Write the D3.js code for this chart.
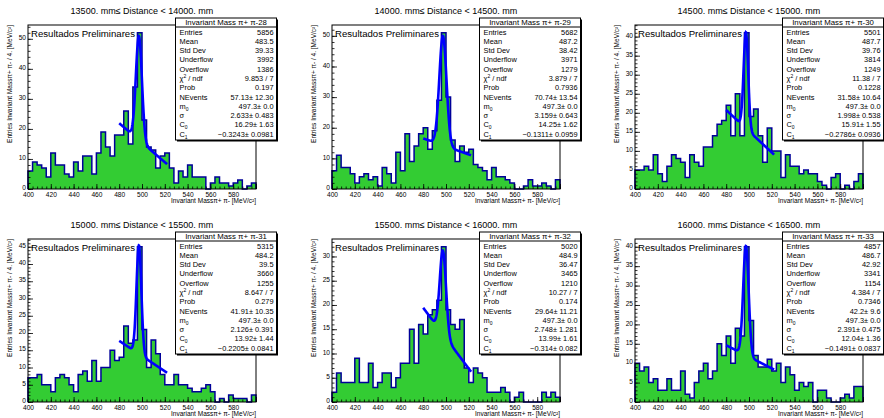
<!DOCTYPE html>
<html>
<head>
<meta charset="utf-8">
<script src="https://cdn.jsdelivr.net/npm/d3@7"></script>
<style>
body { margin: 0; background: #fff; }
svg text { font-family: "Liberation Sans", Arial, Helvetica, sans-serif; fill: #000; }
</style>
</head>
<body>
<script>
// histogram binning (MeV/c^2)
var x_min = 400, x_max = 600, bin_width = 4;

// one histogram per distance slice
var hist_ids = [28, 29, 30, 31, 32, 33];
var distance_low = [13500, 14000, 14500, 15000, 15500, 16000];
var distance_high = [14000, 14500, 15000, 15500, 16000, 16500];

// bin contents, 400 -> 596 in steps of 4
var counts28 = [6,9,8,7,4,12,8,8,5,4,9,6,11,11,5,12,19,14,11,18,18,26,15,34,52,23,14,13,7,11,12,7,2,6,4,8,4,4,4,0,2,4,2,2,1,2,3,0,1,2];
var counts29 = [6,11,7,7,5,2,4,5,3,4,1,7,5,2,12,6,18,9,14,18,20,13,19,29,51,30,16,9,14,12,13,8,7,6,3,7,4,4,3,2,0,0,1,3,1,1,2,1,0,3];
var counts30 = [5,5,6,5,9,4,2,6,9,8,7,3,9,7,6,11,11,14,17,18,22,14,25,14,41,19,21,14,7,16,10,10,3,9,6,6,4,5,4,4,2,1,0,3,4,0,1,0,2,4];
var counts31 = [7,7,8,5,5,3,7,8,7,5,3,8,9,6,12,6,10,10,15,12,13,22,17,18,45,21,10,18,14,8,5,5,8,5,5,4,3,3,4,5,3,0,1,0,2,1,1,1,0,2];
var counts32 = [2,6,4,4,4,9,4,4,8,3,4,6,6,3,5,8,8,15,8,16,14,18,19,21,32,19,16,15,17,7,4,7,6,5,2,2,2,3,2,0,1,2,0,0,0,0,2,1,2,1];
var counts33 = [10,8,9,5,6,3,3,6,3,3,8,2,1,5,8,10,6,8,15,12,17,10,19,17,40,21,12,9,9,11,8,10,5,9,7,3,5,4,5,0,3,3,1,0,0,1,2,1,4,4];
var all_counts = [counts28, counts29, counts30, counts31, counts32, counts33];

// stats box
var entries = [5856, 5682, 5501, 5315, 5020, 4857];
var means = ["483.5", "487.2", "487.7", "484.2", "484.9", "486.7"];
var std_devs = ["39.33", "38.42", "39.76", "39.5", "36.47", "42.92"];
var underflows = [3992, 3971, 3814, 3660, 3465, 3341];
var overflows = [1386, 1279, 1249, 1255, 1210, 1154];
var chi2 = ["9.853", "3.879", "11.38", "8.647", "10.27", "4.384"];
var ndf = 7;
var probs = ["0.197", "0.7936", "0.1228", "0.279", "0.174", "0.7346"];

// fit: gaussian peak + linear background
var n_events = [57.13, 70.74, 31.58, 41.91, 29.64, 42.2];
var n_events_err = ["12.30", "13.54", "10.64", "10.35", "11.21", "9.6"];
var mass_peak = 497.3, mass_peak_err = "0.0";
var sigmas = [2.633, 3.159, 1.998, 2.126, 2.748, 2.391];
var sigmas_err = ["0.483", "0.643", "0.538", "0.391", "1.281", "0.475"];
var c0s = [16.29, 14.25, 15.91, 13.92, 13.99, 12.04];
var c0s_err = ["1.63", "1.62", "1.55", "1.44", "1.61", "1.36"];
var c1s = [-0.3243, -0.1311, -0.2786, -0.2205, -0.314, -0.1491];
var c1s_err = ["0.0981", "0.0959", "0.0936", "0.0841", "0.082", "0.0837"];
var fit_range = [480, 522];

var width = 884, height = 418;

// frame layout (3 columns x 2 rows)
var frame_left = [28, 332, 635],
    frame_top = [25, 239],
    frame_width = 228,
    frame_height = [164, 163];

var svg = d3.select("body").append("svg")
    .attr("width", width)
    .attr("height", height);

hist_ids.forEach(function(id, i){ drawPanel(i); });

function fitValue(i, m){
  var s = sigmas[i];
  var amp = n_events[i] * bin_width / (Math.sqrt(2 * Math.PI) * s);
  return amp * Math.exp(-0.5 * Math.pow((m - mass_peak) / s, 2)) + c0s[i] + c1s[i] * (m - mass_peak);
}

function minus(v){ return String(v).replace("-", "\u2212"); }

function drawPanel(i){
  var col = i % 3, row = Math.floor(i / 3);
  var left = frame_left[col], top = frame_top[row],
      w = frame_width, h = frame_height[row];
  var counts = all_counts[i];
  var ymax = 1.05 * d3.max(counts);

  var x = d3.scaleLinear().domain([x_min, x_max]).range([left, left + w]);
  var y = d3.scaleLinear().domain([0, ymax]).range([top + h, top]);

  var g = svg.append("g").attr("class", "pad");

  var bins = counts.map(function(c, j){ return {x: x_min + j * bin_width, y: c}; });
  bins.push({x: x_max, y: counts[counts.length - 1]});

  // filled histogram
  g.append("path")
      .datum(bins)
      .attr("d", d3.area()
        .curve(d3.curveStepAfter)
        .x(function(d){ return x(d.x); })
        .y0(y(0))
        .y1(function(d){ return y(d.y); }))
      .attr("fill", "#33cc33");

  var outline = [{x: x_min, y: 0}].concat(bins, [{x: x_max, y: 0}]);
  g.append("path")
      .datum(outline)
      .attr("d", d3.line()
        .curve(d3.curveStepAfter)
        .x(function(d){ return x(d.x); })
        .y(function(d){ return y(d.y); }))
      .attr("fill", "none")
      .attr("stroke", "#000099")
      .attr("stroke-width", 1.5);

  // fit curve
  var fit_pts = d3.range(fit_range[0], fit_range[1] + 0.01, 0.2);
  g.append("path")
      .datum(fit_pts)
      .attr("d", d3.line()
        .x(function(d){ return x(d); })
        .y(function(d){ return y(fitValue(i, d)); }))
      .attr("fill", "none")
      .attr("stroke", "#0000ff")
      .attr("stroke-width", 2.6);

  // frame
  g.append("rect")
      .attr("x", left).attr("y", top)
      .attr("width", w).attr("height", h)
      .attr("fill", "none")
      .attr("stroke", "#000")
      .attr("stroke-width", 1);

  // axes, ticks inside the frame
  var y_step = ymax > 50 ? 10 : 5;
  var axes = [
    d3.axisBottom(x).tickValues(d3.range(x_min, x_max + 1, bin_width)).tickSize(-2.5).tickFormat(""),
    d3.axisBottom(x).tickValues(d3.range(x_min, x_max + 1, 20)).tickSize(-5).tickPadding(3)
      .tickFormat(function(d){ return d < x_max ? d : ""; })
  ];
  axes.forEach(function(a){
    g.append("g")
        .attr("transform", "translate(0," + (top + h) + ")")
        .call(a)
        .call(styleAxis);
  });
  var yaxes = [
    d3.axisLeft(y).tickValues(d3.range(0, ymax, y_step / 5)).tickSize(-2.5).tickFormat(""),
    d3.axisLeft(y).tickValues(d3.range(0, ymax, y_step)).tickSize(-5).tickPadding(2)
  ];
  yaxes.forEach(function(a){
    g.append("g")
        .attr("transform", "translate(" + left + ",0)")
        .call(a)
        .call(styleAxis)
      .selectAll("text")
        .attr("dy", "0.1em");
  });

  // titles
  g.append("text")
      .attr("x", left + w / 2)
      .attr("y", top - 11)
      .attr("text-anchor", "middle")
      .attr("font-size", 9)
      .text(distance_low[i] + ". mm\u2264 Distance < " + distance_high[i] + ". mm");

  g.append("text")
      .attr("x", left + w)
      .attr("y", top + h + 14)
      .attr("text-anchor", "end")
      .attr("font-size", 6.5)
      .text("Invariant Mass\u03c0+ \u03c0- [MeV/c\u00b2]");

  g.append("text")
      .attr("transform", "translate(" + (left - 16) + "," + top + ") rotate(-90)")
      .attr("text-anchor", "end")
      .attr("font-size", 6.5)
      .text("Entries Invariant Mass\u03c0+ \u03c0- / 4. [MeV/c\u00b2]");

  g.append("text")
      .attr("x", left + 3)
      .attr("y", top + 12)
      .attr("font-size", 9.6)
      .text("Resultados Preliminares");

  drawStats(g, i, left + w - 80.5, top - 7);
}

function styleAxis(sel){
  sel.select(".domain").remove();
  sel.attr("font-family", null).attr("font-size", 6.6);
  sel.selectAll("line").attr("stroke", "#000").attr("stroke-width", 0.8);
}

function drawStats(g, i, bx, by){
  var bw = 101, bh = 122, head = 9;

  g.append("rect")
      .attr("x", bx + 1.5).attr("y", by + 1.5)
      .attr("width", bw).attr("height", bh)
      .attr("fill", "#000");
  g.append("rect")
      .attr("x", bx).attr("y", by)
      .attr("width", bw).attr("height", bh)
      .attr("fill", "#fff")
      .attr("stroke", "#000")
      .attr("stroke-width", 1);
  g.append("line")
      .attr("x1", bx).attr("x2", bx + bw)
      .attr("y1", by + head).attr("y2", by + head)
      .attr("stroke", "#000")
      .attr("stroke-width", 1);

  g.append("text")
      .attr("x", bx + bw / 2)
      .attr("y", by + 7.3)
      .attr("text-anchor", "middle")
      .attr("font-size", 7.8)
      .text("Invariant Mass \u03c0+ \u03c0-" + hist_ids[i]);

  var rows = [
    [[{t: "Entries"}], String(entries[i])],
    [[{t: "Mean"}], means[i]],
    [[{t: "Std Dev"}], std_devs[i]],
    [[{t: "Underflow"}], String(underflows[i])],
    [[{t: "Overflow"}], String(overflows[i])],
    [[{t: "\u03c7"}, {t: "2", s: "sup"}, {t: " / ndf"}], chi2[i] + " / " + ndf],
    [[{t: "Prob"}], probs[i]],
    [[{t: "NEvents"}], n_events[i] + "\u00b1 " + n_events_err[i]],
    [[{t: "m"}, {t: "0", s: "sub"}], mass_peak + "\u00b1 " + mass_peak_err],
    [[{t: "\u03c3"}], sigmas[i] + "\u00b1 " + sigmas_err[i]],
    [[{t: "C"}, {t: "0", s: "sub"}], c0s[i] + "\u00b1 " + c0s_err[i]],
    [[{t: "C"}, {t: "1", s: "sub"}], minus(c1s[i]) + "\u00b1 " + c1s_err[i]]
  ];

  var row_y = d3.scaleLinear().domain([0, rows.length - 1]).range([by + 16.5, by + bh - 3.3]);

  rows.forEach(function(r, k){
    var lab = g.append("text")
        .attr("x", bx + 4)
        .attr("y", row_y(k))
        .attr("font-size", 7.4);
    r[0].forEach(function(seg){
      var ts = lab.append("tspan").text(seg.t);
      if (seg.s == "sub") ts.attr("font-size", 5).attr("dy", 1.8);
      if (seg.s == "sup") ts.attr("font-size", 5).attr("dy", -2.8);
      if (!seg.s && lab.selectAll("tspan").size() > 1) ts.attr("dy", 2.8);
    });
    g.append("text")
        .attr("x", bx + bw - 3)
        .attr("y", row_y(k))
        .attr("text-anchor", "end")
        .attr("font-size", 7.4)
        .text(r[1]);
  });
}
</script>
</body>
</html>
